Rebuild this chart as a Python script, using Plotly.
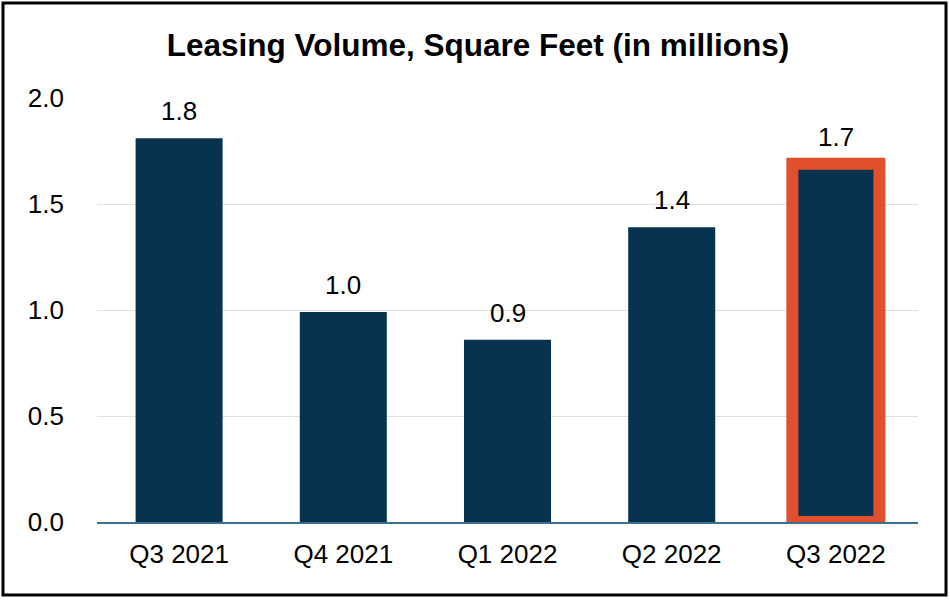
import plotly.graph_objects as go

quarters = ["Q3 2021", "Q4 2021", "Q1 2022", "Q2 2022", "Q3 2022"]
volume = [1.81, 0.99, 0.86, 1.39, 1.69]
y_ticks = [0.0, 0.5, 1.0, 1.5, 2.0]

NAVY = "#07334F"
HIGHLIGHT = "#E0502C"

# only the latest quarter gets the orange outline
line_colors = [NAVY] * (len(quarters) - 1) + [HIGHLIGHT]
line_widths = [0] * (len(quarters) - 1) + [12]

bars = go.Bar(
    x=quarters,
    y=volume,
    marker=dict(color=NAVY, line=dict(color=line_colors, width=line_widths)),
    hoverinfo="skip",
)

fig = go.Figure(data=[bars])

# value labels sit a bit higher above the bars than plotly's own outside text
for q, v in zip(quarters, volume):
    fig.add_annotation(
        x=q, y=v, text=f"{v:.1f}",
        showarrow=False, yanchor="bottom", yshift=10,
        font=dict(size=26, color="black"),
    )

# plot area in pixels, used to place the outer frame in paper coords
L, R, T, B = 97, 32, 98, 78
W, H = 950, 600
pw, ph = W - L - R, H - T - B

fig.update_layout(
    width=W,
    height=H,
    margin=dict(l=L, r=R, t=T, b=B),
    paper_bgcolor="white",
    plot_bgcolor="white",
    font=dict(family="Liberation Sans, Arial, sans-serif", color="black"),
    title=dict(
        text="<b>Leasing Volume, Square Feet (in millions)</b>",
        font=dict(size=31.5, color="black"),
        x=478 / W,
        xanchor="center",
        y=1 - 45 / H,
        yanchor="middle",
    ),
    bargap=0.47,
    showlegend=False,
    xaxis=dict(
        showline=True,
        linecolor="#3C6E8F",
        linewidth=2,
        showgrid=False,
        ticks="",
        tickfont=dict(size=26),
        ticklabelstandoff=8,
    ),
    yaxis=dict(
        range=[0, 2.0],
        tickvals=y_ticks,
        ticktext=[f"{v:.1f}" for v in y_ticks],
        showgrid=True,
        gridcolor="#E0E0E0",
        gridwidth=1,
        zeroline=False,
        showline=False,
        ticks="",
        tickfont=dict(size=26),
        ticklabelstandoff=32,
    ),
    shapes=[
        dict(
            type="rect",
            xref="paper",
            yref="paper",
            x0=(3 - L) / pw,
            x1=(946 - L) / pw,
            y0=(H - B - 595) / ph,
            y1=(H - B - 3) / ph,
            line=dict(color="black", width=3),
            fillcolor="rgba(0,0,0,0)",
            layer="above",
        )
    ],
)

fig.write_html(
    "out.html",
    config={"displayModeBar": False},
    post_script="document.body.style.margin='0';",
)
